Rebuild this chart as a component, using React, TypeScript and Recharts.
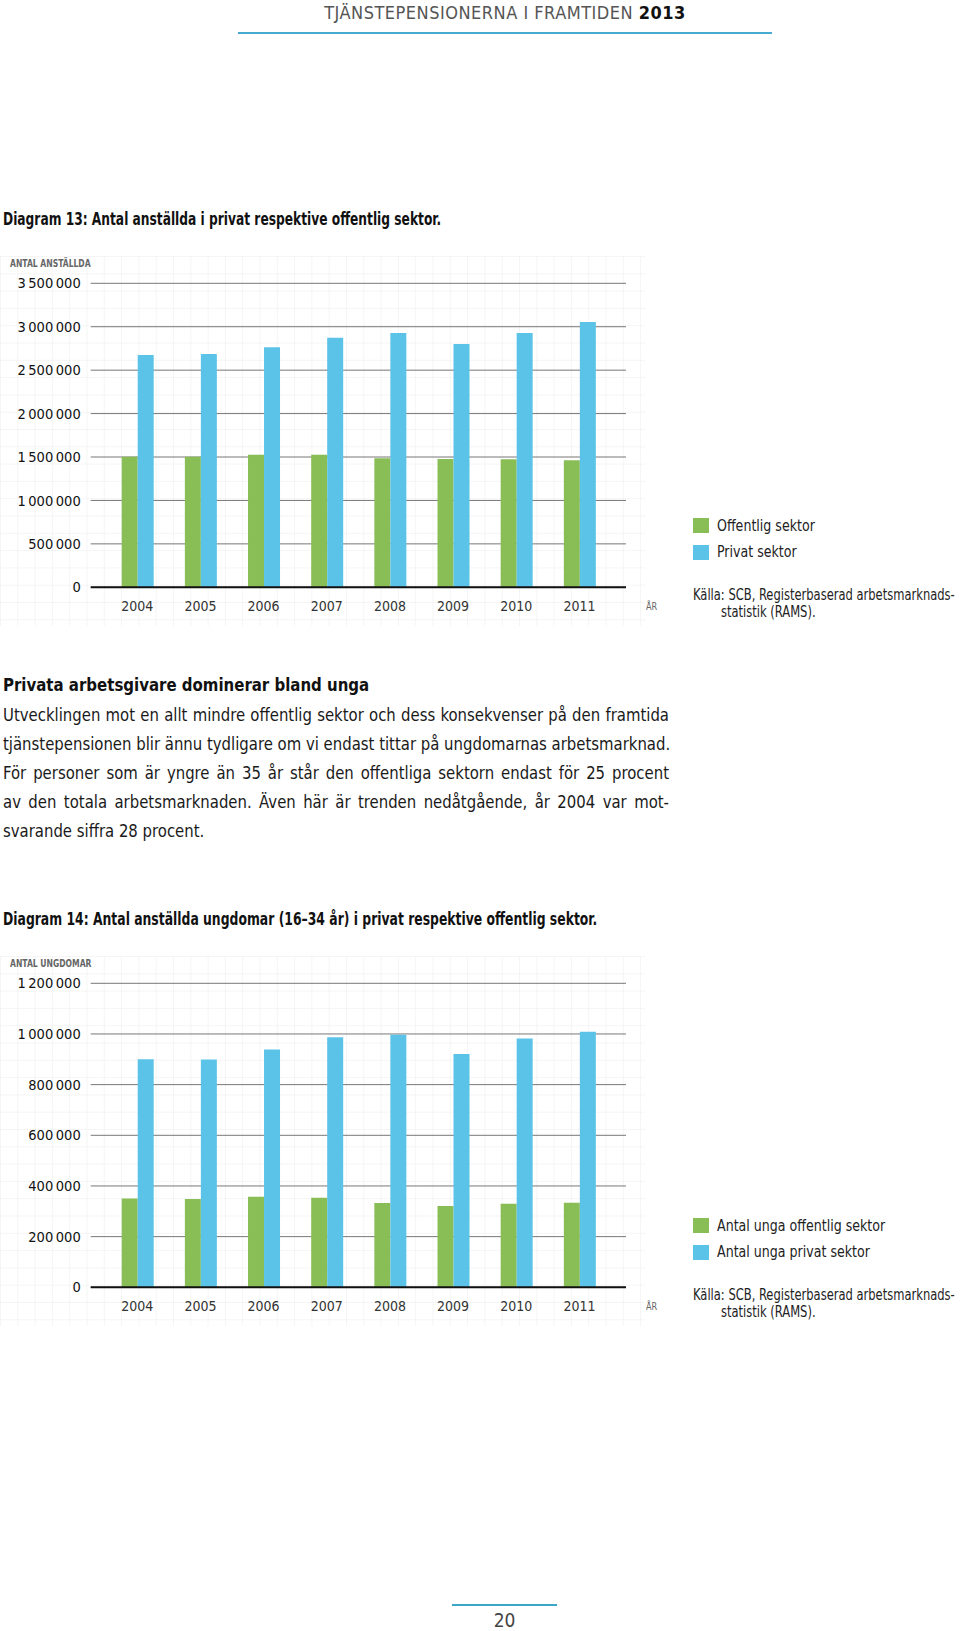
import type { CSSProperties, ReactNode } from 'react';
import { BarChart, Bar, XAxis, YAxis, CartesianGrid } from 'recharts';

const years = ['2004', '2005', '2006', '2007', '2008', '2009', '2010', '2011'];

// Diagram 13
const offentligSektor = [1504000, 1504000, 1527000, 1527000, 1485000, 1478000, 1474000, 1462000];
const privatSektor = [2675000, 2686000, 2763000, 2874000, 2928000, 2801000, 2928000, 3055000];
const ticks13 = [0, 500000, 1000000, 1500000, 2000000, 2500000, 3000000, 3500000];

// Diagram 14
const ungaOffentlig = [351000, 349000, 357000, 353000, 333000, 321000, 330000, 334000];
const ungaPrivat = [900000, 899000, 939000, 987000, 997000, 921000, 982000, 1009000];
const ticks14 = [0, 200000, 400000, 600000, 800000, 1000000, 1200000];

const GREEN = '#89bd55';
const BLUE = '#5cc3e8';
const FONT = "'Liberation Sans Narrow', 'DejaVu Sans Condensed', Roboto, sans-serif";

// thin space as thousands separator
const fmt = (v: number) => String(v).replace(/\B(?=(\d{3})+(?!\d))/g, '\u2009');

const paragraph = [
  'Utvecklingen mot en allt mindre offentlig sektor och dess konsekvenser på den framtida',
  'tjänstepensionen blir ännu tydligare om vi endast tittar på ungdomarnas arbetsmarknad.',
  'För personer som är yngre än 35 år står den offentliga sektorn endast för 25 procent',
  'av den totala arbetsmarknaden. Även här är trenden nedåtgående, år 2004 var mot-',
  'svarande siffra 28 procent.',
];

// condensed text: the page font is narrower than anything installed
function Narrow({ x, y, sx, style, children }: { x: number; y: number; sx: number; style?: CSSProperties; children: ReactNode }) {
  return (
    <div
      style={{
        position: 'absolute',
        left: x,
        top: y,
        whiteSpace: 'nowrap',
        transform: `scaleX(${sx})`,
        transformOrigin: 'left top',
        fontFamily: FONT,
        ...style,
      }}
    >
      {children}
    </div>
  );
}

function GraphPaper({ top, height }: { top: number; height: number }) {
  return (
    <svg style={{ position: 'absolute', left: 0, top }} width={660} height={height}>
      <defs>
        <pattern id={`paper${top}`} width={17.3} height={17.3} patternUnits="userSpaceOnUse">
          <path d="M 17.3 0 L 0 0 0 17.3" fill="none" stroke="#ececec" strokeWidth={1} />
        </pattern>
      </defs>
      <rect x={0} y={0} width={645} height={height} fill={`url(#paper${top})`} />
    </svg>
  );
}

interface ChartProps {
  top: number;
  a: number[];
  b: number[];
  ticks: number[];
  yLabel: string;
  nameA: string;
  nameB: string;
}

function Chart({ top, a, b, ticks, yLabel, nameA, nameB }: ChartProps) {
  const data = years.map((y, i) => ({ year: y, a: a[i], b: b[i] }));
  const max = ticks[ticks.length - 1];
  const legendRow = (t: number, color: string, label: string) => (
    <>
      <div style={{ position: 'absolute', left: 693, top: top + t - 7.5, width: 16, height: 15, background: color }} />
      <Narrow x={717} y={top + t - 10} sx={0.85} style={{ fontSize: 16.5, color: '#222', lineHeight: '20px' }}>
        {label}
      </Narrow>
    </>
  );
  return (
    <>
      <GraphPaper top={top + 6} height={370} />
      <Narrow x={10} y={top + 8} sx={0.85} style={{ fontSize: 10, fontWeight: 700, color: '#666', lineHeight: '12px' }}>
        {yLabel}
      </Narrow>
      <div style={{ position: 'absolute', left: 0, top }}>
        <BarChart
          width={680}
          height={380}
          data={data}
          margin={{ top: 33.3, right: 54, bottom: 12.7, left: 0 }}
          barGap={0}
          barSize={16}
        >
          <CartesianGrid vertical={false} stroke="#777" />
          <XAxis
            dataKey="year"
            interval={0}
            padding={{ left: 15, right: 15 }}
            tickLine={false}
            tickSize={0}
            tickMargin={14}
            height={30}
            axisLine={{ stroke: '#111', strokeWidth: 2 }}
            tick={{ fill: '#333', fontSize: 14, fontFamily: FONT }}
          />
          <YAxis
            width={90.7}
            domain={[0, max]}
            ticks={ticks}
            tickFormatter={fmt}
            tickLine={false}
            tickSize={0}
            tickMargin={10}
            axisLine={false}
            tick={{ fill: '#111', fontSize: 14.5, fontFamily: FONT }}
          />
          <Bar dataKey="a" name={nameA} fill={GREEN} isAnimationActive={false} />
          <Bar dataKey="b" name={nameB} fill={BLUE} isAnimationActive={false} />
        </BarChart>
      </div>
      <Narrow x={646} y={top + 351} sx={0.9} style={{ fontSize: 10, color: '#666', lineHeight: '12px' }}>
        ÅR
      </Narrow>
      {legendRow(275.5, GREEN, nameA)}
      {legendRow(302, BLUE, nameB)}
      <Narrow x={693} y={top + 336} sx={0.8} style={{ fontSize: 16, color: '#222', lineHeight: '17px' }}>
        Källa: SCB, Registerbaserad arbetsmarknads-
        <div style={{ paddingLeft: 35 }}>statistik (RAMS).</div>
      </Narrow>
    </>
  );
}

export default function App() {
  return (
    <div style={{ position: 'absolute', left: 0, top: 0, width: 960, height: 1631, background: '#fff', fontFamily: FONT, overflow: 'hidden' }}>
      <div style={{ position: 'absolute', left: 0, width: 1010, top: 2, textAlign: 'center', fontSize: 18, letterSpacing: 0.5, color: '#555', lineHeight: '21px' }}>
        TJÄNSTEPENSIONERNA I FRAMTIDEN <span style={{ color: '#111', fontWeight: 700 }}>2013</span>
      </div>
      <div style={{ position: 'absolute', left: 238, top: 31.5, width: 534, height: 2, background: '#47aad0' }} />

      <Narrow x={3} y={209} sx={0.8} style={{ fontSize: 17, fontWeight: 700, color: '#111', lineHeight: '20px' }}>
        Diagram 13: Antal anställda i privat respektive offentlig sektor.
      </Narrow>

      <Chart
        top={250}
        a={offentligSektor}
        b={privatSektor}
        ticks={ticks13}
        yLabel="ANTAL ANSTÄLLDA"
        nameA="Offentlig sektor"
        nameB="Privat sektor"
      />

      <Narrow x={3} y={674} sx={0.9} style={{ fontSize: 18.5, fontWeight: 700, color: '#111', lineHeight: '22px' }}>
        Privata arbetsgivare dominerar bland unga
      </Narrow>
      {paragraph.map((line, i) => {
        const last = i === paragraph.length - 1;
        return (
          <Narrow
            key={i}
            x={3}
            y={704 + i * 29.1}
            sx={0.895}
            style={{
              width: last ? undefined : 666 / 0.895,
              fontSize: 18.5,
              color: '#1a1a1a',
              lineHeight: '22px',
              textAlign: 'justify',
              textAlignLast: last ? 'left' : 'justify',
            }}
          >
            {line}
          </Narrow>
        );
      })}

      <Narrow x={3} y={909} sx={0.81} style={{ fontSize: 17, fontWeight: 700, color: '#111', lineHeight: '20px' }}>
        Diagram 14: Antal anställda ungdomar (16–34 år) i privat respektive offentlig sektor.
      </Narrow>

      <Chart
        top={950}
        a={ungaOffentlig}
        b={ungaPrivat}
        ticks={ticks14}
        yLabel="ANTAL UNGDOMAR"
        nameA="Antal unga offentlig sektor"
        nameB="Antal unga privat sektor"
      />

      <div style={{ position: 'absolute', left: 452, top: 1604, width: 105, height: 1.5, background: '#3aa7c9' }} />
      <div style={{ position: 'absolute', left: 452, width: 105, top: 1610, textAlign: 'center', fontSize: 19, color: '#444', lineHeight: '20px' }}>
        20
      </div>
    </div>
  );
}
